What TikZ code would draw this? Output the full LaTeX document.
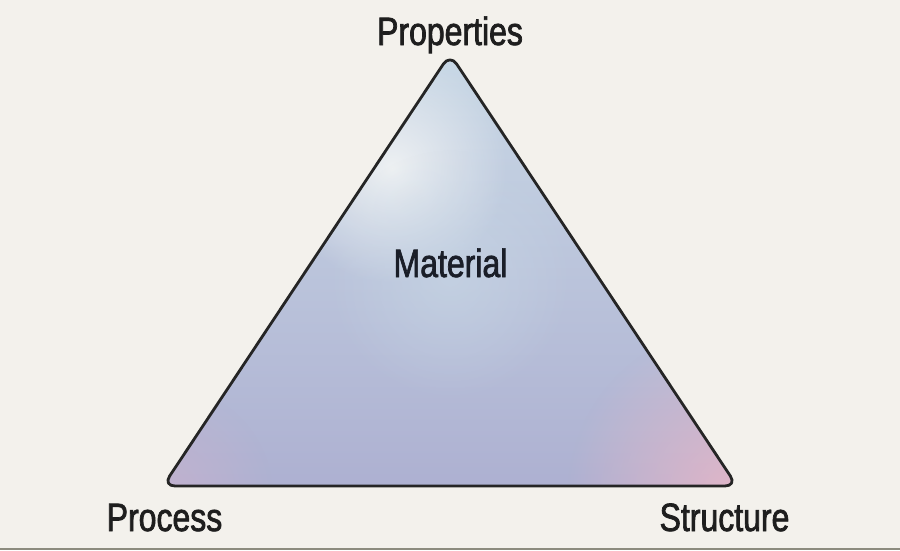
\documentclass[tikz,border=0pt]{standalone}
\usepackage{fontspec}
\setmainfont[FakeStretch=0.81, FakeBold=1.8]{Liberation Sans}
\usetikzlibrary{fadings}
\tikzfading[name=softdisc, inner color=transparent!0, outer color=transparent!100]
\definecolor{bgc}{HTML}{F3F1EC}
\definecolor{rulec}{HTML}{8C8B7E}
\definecolor{topc}{HTML}{C9D9E6}
\definecolor{botc}{HTML}{ADB0D1}
\definecolor{hlc}{HTML}{EEF1F3}
\definecolor{pinkc}{HTML}{E2B6C8}
\definecolor{lpinkc}{HTML}{C2B2CF}
\definecolor{edgec}{HTML}{252525}
\definecolor{txtc}{HTML}{1E1E1E}
\definecolor{mattxt}{HTML}{1A1E28}
\tikzset{
  lbl/.style={text=txtc, font=\fontsize{39.5}{42}\selectfont, inner sep=0pt},
  edgeline/.style={draw=edgec, line width=2.8pt, rounded corners=12pt, line join=round}
}
\begin{document}
\begin{tikzpicture}[x=1pt,y=-1pt]
\useasboundingbox (0,0) rectangle (900,550);
\fill[bgc] (0,0) rectangle (900,550);
\draw[rulec, line width=2pt] (0,548.5) -- (900,548.5);
\coordinate (A) at (450,54);
\coordinate (B) at (163,486);
\coordinate (C) at (737,486);
\begin{scope}
  \clip[rounded corners=12pt] (A) -- (B) -- (C) -- cycle;
  \shade[top color=topc, bottom color=botc] (150,45) rectangle (750,490);
  \fill[hlc, path fading=softdisc] (392,168) circle (115);
  \fill[topc, path fading=softdisc, opacity=0.6] (450,275) circle (125);
  \fill[pinkc, path fading=softdisc] (737,495) circle (170);
  \fill[lpinkc, path fading=softdisc] (163,495) circle (110);
\end{scope}
\draw[edgeline] (A) -- (B) -- (C) -- cycle;
\node[lbl, anchor=base] (prop) at (450,45) {Properties};
\node[lbl, anchor=base] (proc) at (164.5,531) {Process};
\node[lbl, anchor=base] (struc) at (724.5,531) {Structure};
\node[lbl, anchor=base, text=mattxt] (mat) at (450.5,277) {Material};
\end{tikzpicture}
\end{document}
